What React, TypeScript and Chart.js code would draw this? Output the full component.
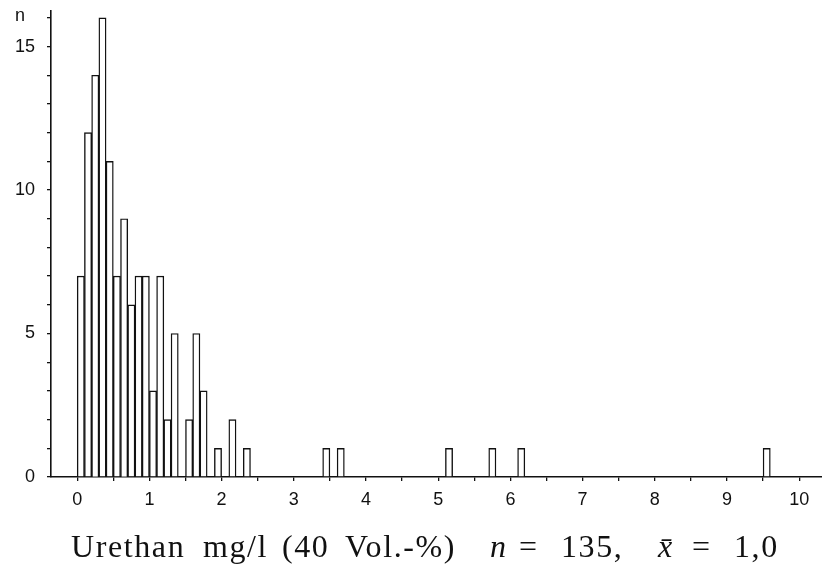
import React, { useEffect, useRef } from "react";
import { Chart, registerables } from "chart.js";

Chart.register(...registerables);

// Histogram bins (lower edge of each 0.1 mg/l class) and counts
const binStarts = [
  0.0, 0.1, 0.2, 0.3, 0.4, 0.5, 0.6, 0.7, 0.8, 0.9,
  1.0, 1.1, 1.2, 1.3, 1.5, 1.6, 1.7, 1.9, 2.1, 2.3,
  3.4, 3.6, 5.1, 5.7, 6.1, 9.5,
];
const counts = [
  7, 12, 14, 16, 11, 7, 9, 6, 7, 7,
  3, 7, 2, 5, 2, 5, 3, 1, 2, 1,
  1, 1, 1, 1, 1, 1,
];
const binWidth = 0.1;

const xTickValues = [0, 0.5, 1, 1.5, 2, 2.5, 3, 3.5, 4, 4.5, 5, 5.5, 6, 6.5, 7, 7.5, 8, 8.5, 9, 9.5, 10];
const xTickLabels = ["0", "1", "2", "3", "4", "5", "6", "7", "8", "9", "10"];
const yTickValues = [0, 1, 2, 3, 4, 5, 6, 7, 8, 9, 10, 11, 12, 13, 14, 15, 16];
const yTickLabels = ["0", "5", "10", "15"];

const yAxisTitle = "n";
const captionParts = [
  { text: "Urethan", italic: false },
  { text: "mg/l", italic: false },
  { text: "(40", italic: false },
  { text: "Vol.-%)", italic: false },
  { text: "n", italic: true },
  { text: "=", italic: false },
  { text: "135,", italic: false },
  { text: "x\u0304", italic: true },
  { text: "=", italic: false },
  { text: "1,0", italic: false },
];
// layout: left x of each caption word
const captionX = [71, 203, 282, 345, 490, 519, 561, 658, 692, 734];

export default function App() {
  const ref = useRef<HTMLCanvasElement | null>(null);

  useEffect(() => {
    if (!ref.current) return;
    const textPlugin = {
      id: "texts",
      afterDraw(chart: any) {
        const ctx = chart.ctx;
        ctx.save();
        ctx.fillStyle = "#111";
        ctx.textBaseline = "alphabetic";
        ctx.textAlign = "left";
        ctx.font = "18px 'Liberation Sans', Arial, sans-serif";
        ctx.fillText(yAxisTitle, 15, 21);
        captionParts.forEach((p, i) => {
          ctx.font = (p.italic ? "italic " : "") + "32px 'Liberation Serif', 'Times New Roman', serif";
          try {
            ctx.letterSpacing = p.text.length > 1 ? "1.6px" : "0px";
          } catch (e) {}
          ctx.fillText(p.text, captionX[i], 557);
        });
        ctx.restore();
      },
    };

    const chart = new Chart(ref.current, {
      type: "bar",
      data: {
        datasets: [
          {
            data: binStarts.map((s, i) => ({ x: s + binWidth / 2, y: counts[i] })),
            backgroundColor: "#ffffff",
            borderColor: "#111111",
            borderWidth: 1.4,
            borderSkipped: "start",
            barPercentage: 1,
            categoryPercentage: 1,
          },
        ],
      },
      options: {
        animation: false,
        responsive: false,
        maintainAspectRatio: false,
        devicePixelRatio: 1,
        layout: { padding: { top: 11, left: 0, right: 0, bottom: 0 } },
        plugins: { legend: { display: false }, tooltip: { enabled: false }, title: { display: false } },
        scales: {
          x: {
            type: "linear",
            min: -0.363,
            max: 10.316,
            offset: false,
            afterFit: (scale: any) => {
              scale.height = 87;
              scale.paddingLeft = 0;
              scale.paddingRight = 0;
            },
            afterBuildTicks: (scale: any) => {
              scale.ticks = xTickValues.map((v) => ({ value: v }));
            },
            grid: {
              display: true,
              drawOnChartArea: false,
              drawTicks: true,
              tickLength: 4,
              color: "#111",
              lineWidth: 1.3,
              offset: false,
            },
            border: { display: true, color: "#111", width: 1.6 },
            ticks: {
              autoSkip: false,
              maxRotation: 0,
              padding: 8,
              color: "#111",
              font: { family: "'Liberation Sans', Arial, sans-serif", size: 18 },
              callback: (v: any) => (xTickLabels.includes(String(v)) ? String(v) : ""),
            },
          },
          y: {
            type: "linear",
            min: 0,
            max: 16.24,
            afterFit: (scale: any) => {
              scale.width = 51;
              scale.paddingTop = 0;
              scale.paddingBottom = 0;
            },
            afterBuildTicks: (scale: any) => {
              scale.ticks = yTickValues.map((v) => ({ value: v }));
            },
            grid: {
              display: true,
              drawOnChartArea: false,
              drawTicks: true,
              tickLength: 4,
              color: "#111",
              lineWidth: 1.3,
            },
            border: { display: true, color: "#111", width: 1.6 },
            ticks: {
              autoSkip: false,
              padding: 12,
              color: "#111",
              font: { family: "'Liberation Sans', Arial, sans-serif", size: 18 },
              callback: (v: any) => (yTickLabels.includes(String(v)) ? String(v) : ""),
            },
          },
        },
      },
      plugins: [textPlugin],
    });
    return () => chart.destroy();
  }, []);

  return (
    <div style={{ position: "fixed", left: 0, top: 0, width: 822, height: 564, background: "#ffffff" }}>
      <canvas ref={ref} width={822} height={564} style={{ width: 822, height: 564, display: "block" }} />
    </div>
  );
}
